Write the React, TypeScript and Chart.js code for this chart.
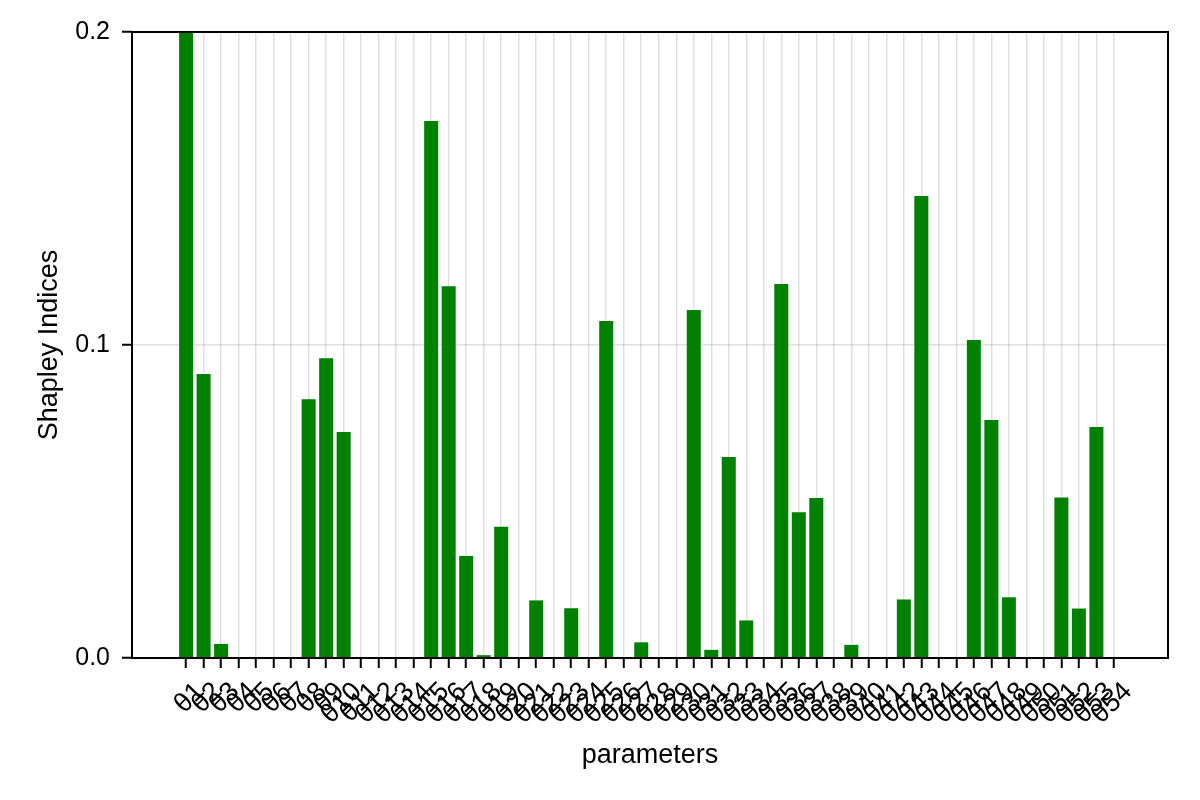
import React, { useEffect, useRef } from "react";
import { Chart, registerables } from "chart.js";

Chart.register(...registerables);

const categories: string[] = Array.from({ length: 54 }, (_, i) => "θ" + (i + 1));

const shapleyValues: number[] = [
  0.2, 0.0907, 0.0045, 0, 0, 0, 0, 0.0827, 0.0958, 0.0722,
  0, 0, 0, 0, 0.1716, 0.1188, 0.0326, 0.0009, 0.0419, 0,
  0.0184, 0, 0.0159, 0, 0.1077, 0, 0.005, 0, 0, 0.1112,
  0.0026, 0.0642, 0.012, 0, 0.1195, 0.0466, 0.0511, 0, 0.0042, 0,
  0, 0.0187, 0.1476, 0, 0, 0.1016, 0.076, 0.0194, 0, 0,
  0.0513, 0.0158, 0.0738, 0,
];

const yTicks: number[] = [0, 0.1, 0.2];

const xTitle = "parameters";
const yTitle = "Shapley Indices";

const FONT = "'Liberation Sans', Arial, Helvetica, sans-serif";

const framePlugin = {
  id: "frame",
  afterDatasetsDraw(chart: any) {
    const { ctx, chartArea } = chart;
    ctx.save();
    ctx.strokeStyle = "#000";
    ctx.lineWidth = 2;
    ctx.strokeRect(chartArea.left, chartArea.top, chartArea.right - chartArea.left, chartArea.bottom - chartArea.top);
    ctx.restore();
  },
};

export default function App() {
  const canvasRef = useRef<HTMLCanvasElement | null>(null);

  useEffect(() => {
    document.body.style.margin = "0";
    const canvas = canvasRef.current;
    if (!canvas) return;
    const n = categories.length;
    const margin = (n - 1 + 0.8) * 0.05;
    const chart = new Chart(canvas, {
      type: "bar",
      data: {
        datasets: [
          {
            data: shapleyValues.map((v, i) => ({ x: i + 1, y: v })),
            backgroundColor: "#008000",
            borderWidth: 0,
            categoryPercentage: 1,
            barPercentage: 0.8,
          },
        ],
      },
      plugins: [framePlugin],
      options: {
        animation: false,
        responsive: false,
        devicePixelRatio: 1,
        layout: { padding: { left: 0, top: 32, right: 32, bottom: 0 } },
        plugins: { legend: { display: false }, tooltip: { enabled: false } },
        scales: {
          x: {
            type: "linear",
            offset: false,
            min: 1 - 0.4 - margin,
            max: n + 0.4 + margin,
            afterBuildTicks: (scale: any) => {
              scale.ticks = categories.map((_, i) => ({ value: i + 1 }));
            },
            afterFit: (scale: any) => {
              scale.height = 142;
            },
            ticks: {
              autoSkip: false,
              minRotation: 45,
              maxRotation: 45,
              padding: 8,
              labelOffset: 14,
              color: "#000",
              font: { family: FONT, size: 27 },
              callback: (value: any) => categories[Number(value) - 1] ?? "",
            },
            grid: {
              offset: false,
              color: "rgba(0,0,0,0.12)",
              lineWidth: 1.5,
              drawTicks: true,
              tickLength: 10,
              tickColor: "#000",
              tickWidth: 2,
            },
            border: { display: false },
            title: {
              display: true,
              text: xTitle,
              color: "#000",
              font: { family: FONT, size: 27 },
              padding: { top: 0, bottom: 28 },
            },
          },
          y: {
            type: "linear",
            min: 0,
            max: 0.2,
            afterBuildTicks: (scale: any) => {
              scale.ticks = yTicks.map((v) => ({ value: v }));
            },
            afterFit: (scale: any) => {
              scale.width = 132;
            },
            ticks: {
              padding: 12,
              color: "#000",
              font: { family: FONT, size: 25 },
              callback: (value: any) => Number(value).toFixed(1),
            },
            grid: {
              color: "rgba(0,0,0,0.12)",
              lineWidth: 1.5,
              drawTicks: true,
              tickLength: 10,
              tickColor: "#000",
              tickWidth: 2,
            },
            border: { display: false },
            title: {
              display: true,
              text: yTitle,
              color: "#000",
              font: { family: FONT, size: 27 },
              padding: { top: 33, bottom: 0 },
            },
          },
        },
      },
    } as any);
    return () => chart.destroy();
  }, []);

  return (
    <div style={{ width: 1200, height: 800, background: "#fff" }}>
      <canvas ref={canvasRef} width={1200} height={800} />
    </div>
  );
}
